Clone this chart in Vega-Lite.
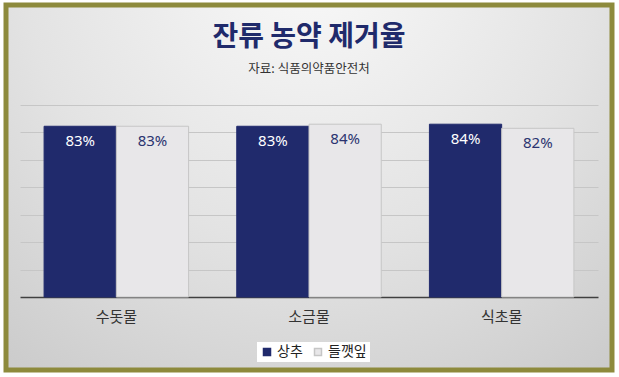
{
  "$schema": "https://vega.github.io/schema/vega-lite/v6.json",
  "width": 606,
  "height": 365,
  "autosize": {"type": "none"},
  "padding": {"left": 6, "top": 5, "right": 7, "bottom": 7},
  "background": "white",
  "config": {
    "font": "Noto Sans CJK KR",
    "view": {
      "stroke": "#8d8a3c",
      "strokeWidth": 5,
      "fill": {
        "gradient": "radial",
        "x1": 0.5, "y1": 0.12, "r1": 0,
        "x2": 0.5, "y2": 0.12, "r2": 0.95,
        "stops": [
          {"offset": 0, "color": "#f9f9f9"},
          {"offset": 0.5, "color": "#e3e3e3"},
          {"offset": 1, "color": "#c4c4c4"}
        ]
      }
    }
  },
  "title": {
    "text": "잔류 농약 제거율",
    "subtitle": "자료: 식품의약품안전처",
    "anchor": "middle",
    "frame": "group",
    "offset": -70,
    "font": "Noto Sans CJK KR",
    "fontSize": 28,
    "fontWeight": "bold",
    "color": "#1f2a6b",
    "subtitleFont": "Noto Sans CJK KR",
    "subtitleFontSize": 12.5,
    "subtitleColor": "#333333",
    "subtitlePadding": 11
  },
  "data": {
    "values": [
      {"method": "수돗물", "crop": "상추", "rate": 0.83},
      {"method": "수돗물", "crop": "들깻잎", "rate": 0.83},
      {"method": "소금물", "crop": "상추", "rate": 0.83},
      {"method": "소금물", "crop": "들깻잎", "rate": 0.84},
      {"method": "식초물", "crop": "상추", "rate": 0.84},
      {"method": "식초물", "crop": "들깻잎", "rate": 0.82}
    ]
  },
  "encoding": {
    "x": {
      "field": "method",
      "type": "nominal",
      "sort": ["수돗물", "소금물", "식초물"],
      "scale": {"range": [14, 592], "paddingInner": 0.25, "paddingOuter": 0.125},
      "axis": {
        "title": null,
        "labelAngle": 0,
        "labelFontSize": 15,
        "labelColor": "#333333",
        "ticks": false,
        "domainColor": "#404040",
        "domainWidth": 1.5,
        "offset": -73,
        "labelPadding": 12,
        "grid": false
      }
    },
    "xOffset": {"field": "crop", "type": "nominal", "sort": ["상추", "들깻잎"]},
    "y": {
      "field": "rate",
      "type": "quantitative",
      "scale": {"domain": [0, 0.9333], "range": [292, 100], "nice": false},
      "axis": {
        "title": null,
        "labels": false,
        "ticks": false,
        "domain": false,
        "grid": true,
        "gridColor": "#c6c6c6",
        "gridWidth": 1,
        "values": [0.1333, 0.2667, 0.4, 0.5333, 0.6667, 0.8, 0.9333]
      }
    }
  },
  "layer": [
    {
      "mark": {"type": "bar", "strokeWidth": 1},
      "encoding": {
        "color": {
          "field": "crop",
          "type": "nominal",
          "sort": ["상추", "들깻잎"],
          "scale": {"domain": ["상추", "들깻잎"], "range": ["#202a6c", "#e8e7e9"]},
          "legend": {
            "orient": "none",
            "legendX": 251,
            "legendY": 337,
            "direction": "horizontal",
            "title": null,
            "symbolType": "square",
            "symbolSize": 49,
            "labelFontSize": 14,
            "labelColor": "#222222",
            "fillColor": "white",
            "padding": 3,
            "labelOffset": 3,
            "columnPadding": 8
          }
        },
        "stroke": {
          "field": "crop",
          "type": "nominal",
          "scale": {"domain": ["상추", "들깻잎"], "range": ["#202a6c", "#c6c6c6"]},
          "legend": null
        }
      }
    },
    {
      "mark": {"type": "text", "baseline": "middle", "dy": 15, "fontSize": 15, "font": "Noto Sans"},
      "encoding": {
        "text": {"field": "rate", "type": "quantitative", "format": ".0%"},
        "color": {
          "condition": {"test": "datum.crop === '상추'", "value": "white"},
          "value": "#2b3470"
        }
      }
    }
  ]
}
